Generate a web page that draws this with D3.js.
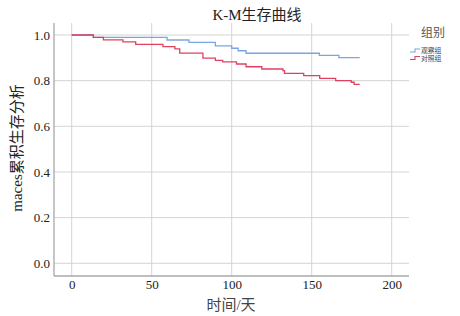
<!DOCTYPE html>
<html>
<head>
<meta charset="utf-8">
<style>
    body { margin: 0; background: #fff; }
    text { font-family: "Liberation Serif", "Noto Sans CJK SC", serif; }
    .grid line { stroke: #d4d4d4; stroke-width: 1; }
</style>
</head>
<body>
<svg id="chart" width="460" height="316"></svg>
<script src="https://cdn.jsdelivr.net/npm/d3@7"></script>
<script>
    // step points: [day, survival]
    const groups = ["观察组", "对照组"]
    const colors = ["#79a6df", "#e0405f"]
    const obsTimes = [0, 13.5, 59.6, 73.3, 89.8, 100, 104, 109, 154.8, 167, 180]
    const obsSurv = [1.0, 0.99, 0.978, 0.968, 0.952, 0.942, 0.931, 0.92, 0.911, 0.901, 0.901]
    const ctrlTimes = [0, 13.5, 19.8, 32, 40, 57, 64.5, 67.5, 82, 89.8, 94.4, 103, 109, 118.8, 132, 133, 145, 155, 165, 174.7, 176.5, 180]
    const ctrlSurv = [1.0, 0.99, 0.979, 0.97, 0.959, 0.949, 0.939, 0.921, 0.899, 0.889, 0.882, 0.873, 0.861, 0.851, 0.844, 0.832, 0.822, 0.81, 0.8, 0.793, 0.784, 0.784]
    const xTicks = [0, 50, 100, 150, 200]
    const yTicks = [0, 0.2, 0.4, 0.6, 0.8, 1.0]

    const svg = d3.select("#chart")
    const plotL = 54, plotR = 409, plotT = 23, plotB = 276

    let x = d3.scaleLinear().domain([0, 200]).range([71.7, 391.7])
    let y = d3.scaleLinear().domain([0, 1]).range([263.3, 35])

    // grid
    let grid = svg.append("g").attr("class", "grid")
    grid.selectAll(".v").data(xTicks).enter().append("line")
        .attr("x1", d => x(d)).attr("x2", d => x(d))
        .attr("y1", plotT).attr("y2", plotB)
    grid.selectAll(".h").data(yTicks).enter().append("line")
        .attr("x1", plotL).attr("x2", plotR)
        .attr("y1", d => y(d)).attr("y2", d => y(d))

    // axes (no tick marks, just labels)
    svg.append("g").attr("transform", `translate(0,${plotB})`)
        .call(d3.axisBottom(x).tickValues(xTicks).tickSize(0).tickPadding(4))
    svg.append("g").attr("transform", `translate(${plotL},0)`)
        .call(d3.axisLeft(y).tickValues(yTicks).tickFormat(d3.format(".1f")).tickSize(0).tickPadding(4))
    svg.selectAll(".domain").remove()
    svg.selectAll(".tick text").attr("font-size", 13).attr("fill", "#222")
        .attr("font-family", "Liberation Serif")

    svg.append("line").attr("x1", plotL).attr("x2", plotL).attr("y1", plotT).attr("y2", plotB)
        .attr("stroke", "#a8a8a8").attr("stroke-width", 1.3)
    svg.append("line").attr("x1", plotL).attr("x2", plotR).attr("y1", plotB).attr("y2", plotB)
        .attr("stroke", "#a8a8a8").attr("stroke-width", 1.3)

    // survival curves
    let line = d3.line().x(d => x(d[0])).y(d => y(d[1])).curve(d3.curveStepAfter)
    let series = [d3.zip(obsTimes, obsSurv), d3.zip(ctrlTimes, ctrlSurv)]
    svg.append("g").selectAll("path").data(series).enter().append("path")
        .attr("d", line)
        .attr("fill", "none")
        .attr("stroke", (d, i) => colors[i])
        .attr("stroke-width", 1.3)

    // titles
    svg.append("text").attr("x", 257).attr("y", 20).attr("text-anchor", "middle")
        .attr("font-size", 15).attr("fill", "#222").text("K-M生存曲线")
    svg.append("text").attr("x", 231).attr("y", 310).attr("text-anchor", "middle")
        .attr("font-size", 15).attr("fill", "#444").text("时间/天")
    svg.append("text").attr("transform", "translate(22,148) rotate(-90)").attr("text-anchor", "middle")
        .attr("font-size", 15).attr("fill", "#222").text("maces累积生存分析")

    // legend
    let legend = svg.append("g")
    legend.append("text").attr("x", 433).attr("y", 37).attr("text-anchor", "middle")
        .attr("font-size", 12).attr("fill", "#555").text("组别")
    let item = legend.selectAll(".item").data(groups).enter().append("g")
        .attr("transform", (d, i) => `translate(410,${50.5 + i * 7.5})`)
    item.append("path")
        .attr("d", "M0,1.5 H5 V-1.5 H10")
        .attr("fill", "none").attr("stroke", (d, i) => colors[i]).attr("stroke-width", 1.1)
    item.append("text").attr("x", 11).attr("y", 2.5)
        .attr("font-size", 6.8).attr("fill", "#444").text(d => d)
</script>
</body>
</html>
